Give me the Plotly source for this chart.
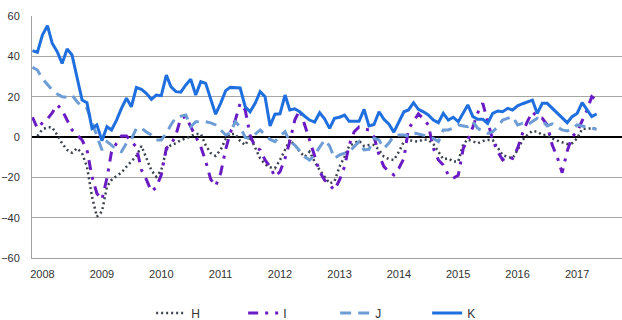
import pandas as pd
import plotly.graph_objects as go

# Monthly observations, November 2007 to May 2017
months = pd.date_range("2007-11-01", periods=115, freq="MS")

H = [None, 0.5, 3.8, 4.8, 4.8, 1.0, -3.1, -6.4, -7.8, -5.6,
     -8.1, -14.7, -29.6, -39.5, -37.0, -24.6, -21.3, -19.3, -17.7, -14.7,
     -12.2, -9.4, -4.5, -10.6, -16.5, -19.7, -16.4, -6.4, -4.0, -3.1,
     -1.5, -0.7, 0.5, 1.5, 1.5, -4.0, -8.0, -9.4, -6.4, -1.0,
     1.5, 1.5, -2.0, -4.0, 0.1, -5.0, -10.6, -13.5, -15.0, -15.5,
     -11.4, -6.4, -1.5, -4.0, -7.3, -9.8, -7.3, -12.2, -16.4, -19.7,
     -23.0, -22.0, -14.7, -9.8, -4.5, -3.1, -1.8, -4.5, -4.0, -4.0,
     -6.4, -9.8, -11.0, -11.4, -7.3, -2.3, -1.5, -2.0, -2.3, -1.2,
     -1.5, -3.5, -7.0, -11.0, -10.6, -12.2, -12.2, -3.5, -1.2, -2.3,
     -3.1, -2.0, -1.5, -1.5, -5.6, -9.0, -9.8, -10.6, -6.4, -1.5,
     1.0, 3.0, 2.6, 1.0, 1.0, -0.7, -1.8, -2.8, -3.5, -3.1,
     -0.7, 4.0, 4.3, 4.3, 4.0]

I = [9.8, 4.3, 7.0, 9.0, 12.0, 15.9, 13.4, 8.0, 3.5, 1.0,
     -1.5, -6.4, -19.7, -28.0, -31.0, -20.3, -7.3, -3.1, 0.5, 0.5,
     -2.0, -5.0, -16.4, -21.0, -27.0, -25.0, -18.8, -5.5, -4.0, 1.0,
     9.4, 10.1, 5.1, 0.1, -4.8, -12.0, -21.0, -24.3, -18.0, -6.1,
     2.0, 8.4, 16.7, 13.4, 1.0, -5.0, -6.4, -11.4, -14.7, -19.7,
     -17.2, -10.6, -2.3, 8.4, 13.4, 6.0, -1.5, -9.8, -17.2, -21.3,
     -24.0, -26.3, -21.3, -14.7, -4.0, 2.6, 5.0, 4.0, 3.5, 0.1,
     -8.9, -14.7, -17.2, -18.8, -15.5, -10.6, 4.0, 8.0, 11.5, 9.0,
     6.0, -5.6, -11.4, -13.9, -18.8, -20.5, -19.0, -5.6, -1.5, 5.0,
     12.0, 16.7, 8.0, -1.5, -7.3, -11.4, -9.8, -10.6, -5.6, 2.0,
     7.6, 12.5, 10.0, 9.3, 6.0, -4.0, -10.0, -17.7, -7.0, 0.2,
     2.6, 8.0, 13.0, 20.0, 18.3]

J = [34.6, 33.2, 29.0, 25.8, 23.3, 21.3, 20.0, 19.7, 20.8, 17.5,
     15.0, 14.2, 7.0, 1.0, -6.4, -2.3, -4.0, -6.4, -7.3, -3.0,
     -1.0, 4.3, 4.5, 2.5, 1.0, -1.5, -1.5, 1.8, 6.0, 9.8,
     10.5, 10.9, 5.1, 7.6, 7.6, 7.6, 7.0, 6.0, 3.5, 1.0,
     2.1, 7.6, 5.1, -0.2, -0.7, 1.5, 3.5, 1.0, -1.2, -2.3,
     0.5, 2.6, -2.3, -4.0, -7.0, -9.8, -11.4, -8.9, -5.0, -1.5,
     -4.5, -10.6, -8.9, -8.0, -7.3, -4.8, -2.3, -6.4, -6.1, -0.7,
     -1.5, -5.6, -3.0, 0.5, 1.0, 1.0, 0.5, 2.1, 1.5, 1.0,
     0.3, -0.7, -2.3, 3.5, 3.5, 4.5, 6.0, 5.5, 5.1, 7.6,
     4.3, 3.0, 1.8, 2.6, 5.1, 8.4, 9.3, 10.1, 6.0, 6.8,
     6.0, 7.9, 9.3, 8.0, 5.5, 6.5, 5.0, 3.5, 3.0, 4.0,
     6.0, 5.5, 4.8, 4.3, 3.8]

K = [42.8, 42.0, 50.6, 55.2, 46.5, 42.3, 36.5, 43.6, 40.7, 29.0,
     18.3, 17.0, 4.3, 6.0, -1.8, 5.1, 3.5, 8.4, 14.2, 19.2,
     15.0, 24.5, 23.6, 21.7, 18.7, 20.8, 20.5, 30.7, 25.0, 22.5,
     22.2, 25.8, 28.6, 20.8, 27.4, 26.6, 19.0, 11.3, 16.7, 23.0,
     24.6, 24.6, 24.3, 15.0, 12.5, 16.7, 22.5, 20.0, 5.5, 11.3,
     11.5, 20.8, 13.4, 14.0, 12.5, 10.3, 8.4, 7.4, 12.0, 9.0,
     4.3, 9.3, 9.8, 10.9, 7.8, 7.8, 7.8, 13.7, 5.5, 6.2,
     12.5, 8.8, 6.3, 2.4, 7.2, 12.5, 13.4, 17.0, 13.7, 12.5,
     10.9, 8.4, 7.1, 11.7, 8.4, 9.8, 7.6, 11.7, 15.9, 10.1,
     8.8, 8.8, 6.8, 11.7, 12.9, 12.5, 14.2, 13.4, 15.5, 16.5,
     17.5, 18.3, 11.7, 16.7, 16.7, 14.2, 11.7, 9.3, 7.1, 10.1,
     11.7, 17.0, 13.4, 10.1, 11.4]

year_ticks = [f"{y}-01-01" for y in range(2008, 2018)]
year_labels = [str(y) for y in range(2008, 2018)]

series = [
    ("H", H, "#3b4350", "2px,3px", 2.5),
    ("I", I, "#6a1bc4", "10px,7px,3px,7px", 3),
    ("J", J, "#6e9dd6", "11px,7px", 3),
    ("K", K, "#1f6fdf", "solid", 3),
]

fig = go.Figure()
for name, vals, color, dash, width in series:
    fig.add_trace(go.Scatter(
        x=months, y=vals, name=name, mode="lines",
        line=dict(color=color, dash=dash, width=width),
        connectgaps=False,
    ))

font = dict(family="Liberation Sans, Arial, sans-serif", size=11, color="#333333")

fig.update_layout(
    width=622, height=320,
    margin=dict(l=32, r=0, t=16, b=62),
    paper_bgcolor="white", plot_bgcolor="white",
    font=font,
    showlegend=True,
    legend=dict(
        orientation="h", xref="container", yref="container",
        x=0.243, y=0.022, xanchor="left", yanchor="middle",
        entrywidth=47, entrywidthmode="pixels",
        font=dict(family="Liberation Sans, Arial, sans-serif", size=12, color="#333333"),
        itemwidth=30,
    ),
)

fig.update_xaxes(
    type="date",
    range=["2007-10-29", "2017-10-04"],
    tickvals=year_ticks, ticktext=year_labels,
    showgrid=False, zeroline=False,
    showline=True, linecolor="#a0a0a0", linewidth=1,
    ticks="", ticklabelstandoff=6,
    tickfont=font,
)

fig.update_yaxes(
    range=[-60, 60], dtick=20, tick0=0,
    showgrid=True, gridcolor="#a6a6a6", gridwidth=1,
    zeroline=True, zerolinecolor="#000000", zerolinewidth=1.5,
    showline=True, linecolor="#a0a0a0", linewidth=1,
    ticks="", ticklabelstandoff=9,
    tickfont=font,
)

fig.write_html("out.html")
